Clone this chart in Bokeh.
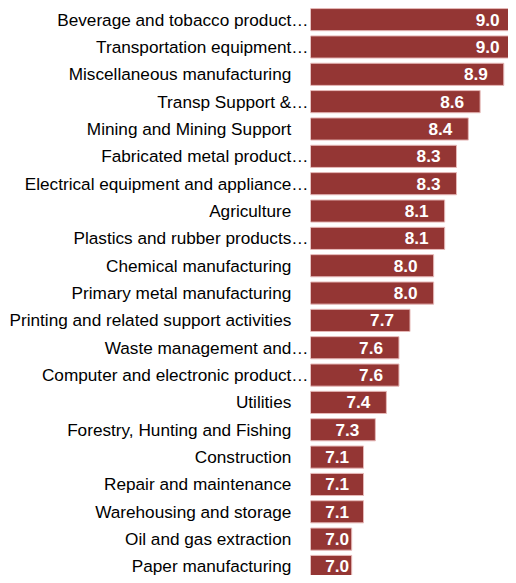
import numpy as np
from bokeh.plotting import figure
from bokeh.models import ColumnDataSource, Range1d, FixedTicker
from bokeh.core.properties import value
from bokeh.embed import file_html
from bokeh.resources import INLINE

# ---- data (top to bottom) ----
categories = [
    "Beverage and tobacco product…",
    "Transportation equipment…",
    "Miscellaneous manufacturing",
    "Transp Support &…",
    "Mining and Mining Support",
    "Fabricated metal product…",
    "Electrical equipment and appliance…",
    "Agriculture",
    "Plastics and rubber products…",
    "Chemical manufacturing",
    "Primary metal manufacturing",
    "Printing and related support activities",
    "Waste management and…",
    "Computer and electronic product…",
    "Utilities",
    "Forestry, Hunting and Fishing",
    "Construction",
    "Repair and maintenance",
    "Warehousing and storage",
    "Oil and gas extraction",
    "Paper manufacturing",
]
scores = [9.04, 9.04, 8.89, 8.59, 8.44, 8.29, 8.29, 8.14, 8.14, 8.00, 8.00,
          7.70, 7.56, 7.56, 7.40, 7.26, 7.11, 7.11, 7.11, 6.96, 6.96]

# ---- styling / layout ----
FONT = "Liberation Sans"
FONT_SIZE = "17.2px"
BAR_COLOR = "#943634"
EDGE_COLOR = "#e6b9b8"
LABEL_MIN_X = 7.13

n = len(categories)
ypos = np.arange(n)
vals = np.array(scores)

src = ColumnDataSource(dict(
    y=ypos,
    v=vals,
    lx=np.maximum(vals, LABEL_MIN_X),
    txt=[f"{s:.1f}" for s in scores],
))

p = figure(width=508, height=575, output_backend="svg", toolbar_location=None,
           x_range=Range1d(6.437, 8.95), y_range=Range1d(20.33, -0.70),
           x_axis_location=None, min_border_left=310, min_border_right=0,
           min_border_top=0, min_border_bottom=0)
p.outline_line_color = None
p.grid.visible = False
p.background_fill_color = "white"
p.border_fill_color = "white"

p.hbar(y="y", left=0, right="v", height=0.81, source=src,
       fill_color=BAR_COLOR, line_color=EDGE_COLOR, line_width=1)

p.text(x="lx", y="y", text="txt", source=src, x_offset=-16,
       text_align="right", text_baseline="middle", text_color="white",
       text_font=value(FONT), text_font_style="bold", text_font_size=FONT_SIZE)

pad = "\u2003"
labels = {int(i): (c if c.endswith("…") else c + pad) for i, c in zip(ypos, categories)}
yax = p.yaxis[0]
yax.ticker = FixedTicker(ticks=list(range(n)))
yax.major_label_overrides = labels
yax.axis_line_color = None
yax.major_tick_line_color = None
yax.minor_tick_line_color = None
yax.major_tick_out = 0
yax.major_tick_in = 0
yax.major_label_standoff = 2
yax.major_label_text_font = FONT
yax.major_label_text_font_size = FONT_SIZE
yax.major_label_text_color = "#000000"

open("out.html", "w").write(file_html(p, INLINE))
